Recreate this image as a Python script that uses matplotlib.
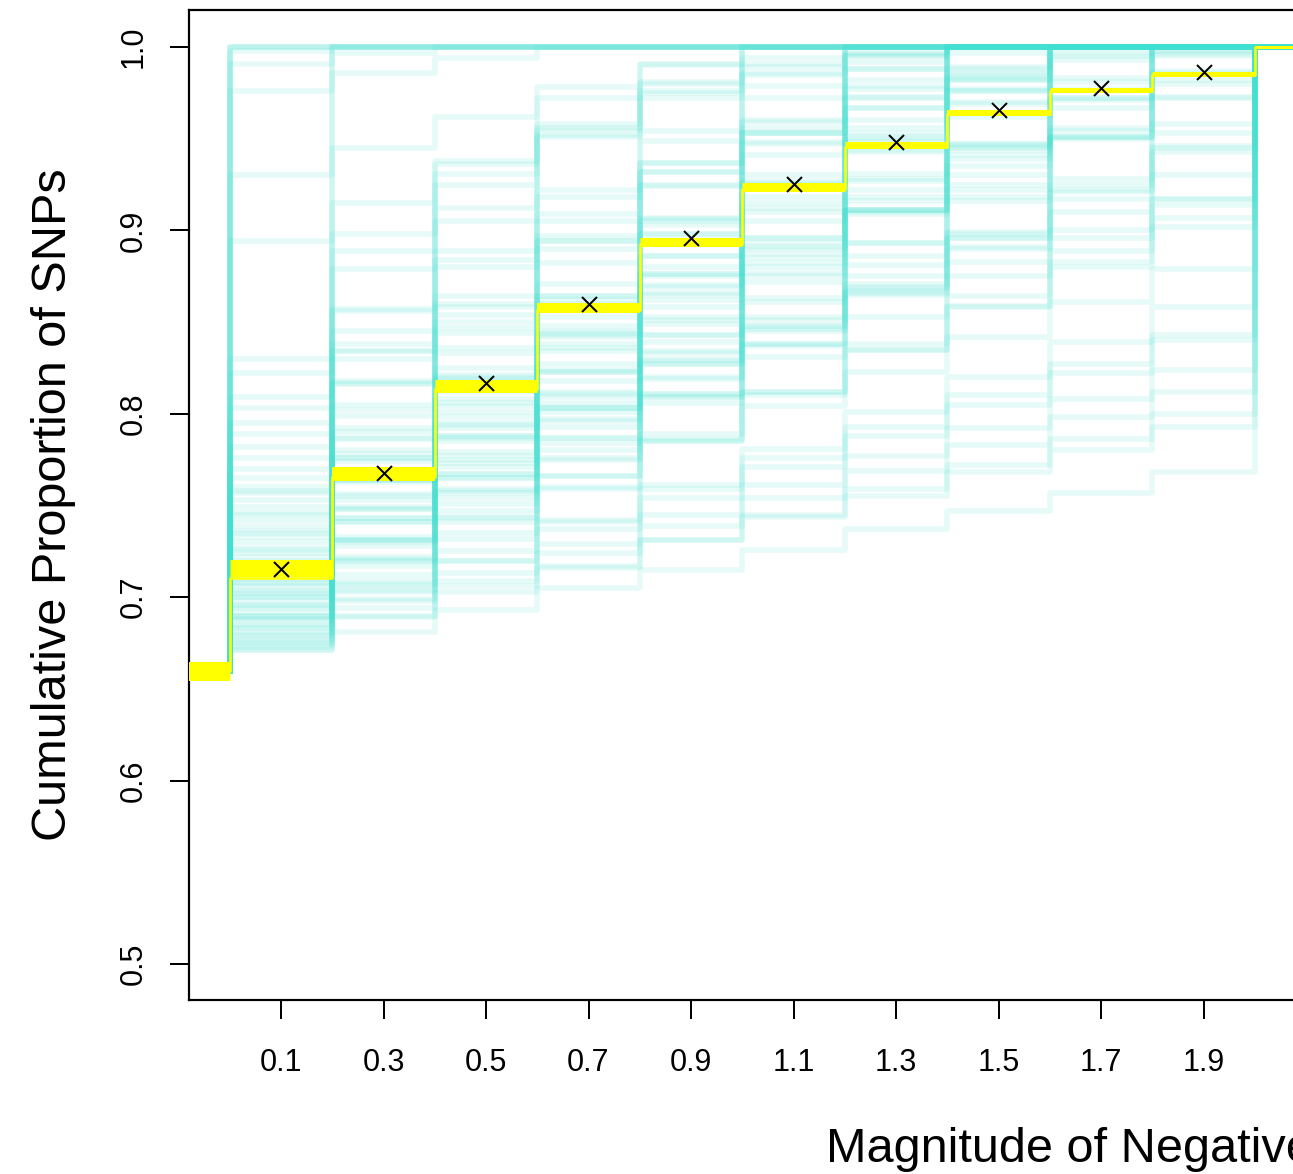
import matplotlib
matplotlib.use("Agg")
import matplotlib.pyplot as plt

plt.rcParams['font.family'] = ['Liberation Sans', 'DejaVu Sans']

# ---------------- data ----------------
bin_edges = [0.0, 0.2, 0.4, 0.6, 0.8, 1.0, 1.2, 1.4, 1.6, 1.8, 2.0]
x_tick_positions = [0.1, 0.3, 0.5, 0.7, 0.9, 1.1, 1.3, 1.5, 1.7, 1.9]
x_tick_labels = ['0.1', '0.3', '0.5', '0.7', '0.9', '1.1', '1.3', '1.5', '1.7', '1.9']
y_tick_positions = [0.5, 0.6, 0.7, 0.8, 0.9, 1.0]
y_tick_labels = ['0.5', '0.6', '0.7', '0.8', '0.9', '1.0']

x_label = 'Magnitude of Negative Selection'
y_label = 'Cumulative Proportion of SNPs'

# observed (yellow) cumulative proportions
observed_start = 0.660      # below magnitude 0
observed_levels = [0.7157, 0.7672, 0.8149, 0.8577, 0.8937,
                   0.9237, 0.9463, 0.9640, 0.9766, 0.9853]
observed_end = 1.0          # beyond magnitude 2
observed_line = [0.7105, 0.7655, 0.8135, 0.8565, 0.8925,
                 0.9225, 0.9455, 0.9635, 0.9762, 0.9850]
observed_means = [0.7154, 0.7677, 0.8168, 0.8599, 0.8959,
                  0.9253, 0.9482, 0.9656, 0.9777, 0.9864]

# replicate (turquoise) cumulative proportions, one row per replicate
replicate_start = 0.660
replicate_levels = [
    [1.000, 1.000, 1.000, 1.000, 1.000, 1.000, 1.000, 1.000, 1.000, 1.000],
    [1.000, 1.000, 1.000, 1.000, 1.000, 1.000, 1.000, 1.000, 1.000, 1.000],
    [1.000, 1.000, 1.000, 1.000, 1.000, 1.000, 1.000, 1.000, 1.000, 1.000],
    [0.998, 1.000, 1.000, 1.000, 1.000, 1.000, 1.000, 1.000, 1.000, 1.000],
    [0.991, 0.997, 1.000, 1.000, 1.000, 1.000, 1.000, 1.000, 1.000, 1.000],
    [0.976, 0.986, 0.994, 1.000, 1.000, 1.000, 1.000, 1.000, 1.000, 1.000],
    [0.930, 0.945, 0.962, 0.978, 0.991, 1.000, 1.000, 1.000, 1.000, 1.000],
    [0.894, 0.915, 0.936, 0.955, 0.972, 0.986, 0.996, 1.000, 1.000, 1.000],
    [0.830, 0.857, 0.884, 0.909, 0.932, 0.953, 0.972, 0.988, 1.000, 1.000],
    [0.726, 1.000, 1.000, 1.000, 1.000, 1.000, 1.000, 1.000, 1.000, 1.000],
    [0.708, 1.000, 1.000, 1.000, 1.000, 1.000, 1.000, 1.000, 1.000, 1.000],
    [0.695, 0.830, 0.905, 0.952, 0.980, 1.000, 1.000, 1.000, 1.000, 1.000],
    [0.735, 0.845, 0.912, 0.951, 0.976, 0.991, 1.000, 1.000, 1.000, 1.000],
    [0.712, 0.879, 0.938, 0.972, 0.990, 1.000, 1.000, 1.000, 1.000, 1.000],
    [0.745, 0.889, 0.925, 0.958, 0.981, 0.994, 1.000, 1.000, 1.000, 1.000],
    [0.703, 0.838, 0.880, 0.918, 0.949, 0.972, 0.988, 0.997, 1.000, 1.000],
    [0.758, 0.898, 0.931, 0.956, 0.975, 0.989, 0.997, 1.000, 1.000, 1.000],
    [0.690, 0.790, 0.860, 0.905, 0.937, 0.960, 0.977, 0.989, 0.996, 1.000],
    [0.700, 0.780, 0.847, 0.897, 0.932, 0.956, 0.973, 0.985, 0.993, 0.998],
    [0.671, 0.706, 0.741, 0.776, 0.811, 0.846, 0.881, 0.916, 0.951, 0.986],
    [0.673, 0.703, 0.732, 0.759, 0.786, 0.812, 0.838, 0.864, 0.889, 0.914],
    [0.675, 0.717, 0.759, 0.801, 0.843, 0.885, 0.927, 0.969, 1.000, 1.000],
    [0.677, 0.699, 0.720, 0.741, 0.761, 0.781, 0.801, 0.820, 0.839, 0.858],
    [0.679, 0.712, 0.744, 0.775, 0.806, 0.837, 0.868, 0.898, 0.928, 0.958],
    [0.681, 0.720, 0.758, 0.796, 0.834, 0.872, 0.910, 0.947, 0.983, 1.000],
    [0.683, 0.709, 0.735, 0.760, 0.785, 0.810, 0.835, 0.859, 0.883, 0.907],
    [0.685, 0.731, 0.777, 0.823, 0.869, 0.915, 0.960, 1.000, 1.000, 1.000],
    [0.687, 0.721, 0.754, 0.787, 0.820, 0.853, 0.886, 0.918, 0.950, 0.982],
    [0.689, 0.707, 0.725, 0.742, 0.759, 0.776, 0.793, 0.810, 0.827, 0.843],
    [0.690, 0.731, 0.771, 0.811, 0.851, 0.891, 0.931, 0.970, 1.000, 1.000],
    [0.692, 0.722, 0.751, 0.780, 0.809, 0.838, 0.867, 0.896, 0.925, 0.953],
    [0.694, 0.731, 0.767, 0.803, 0.839, 0.875, 0.911, 0.946, 0.981, 1.000],
    [0.696, 0.720, 0.743, 0.766, 0.789, 0.812, 0.835, 0.858, 0.880, 0.902],
    [0.698, 0.748, 0.798, 0.848, 0.898, 0.948, 0.995, 1.000, 1.000, 1.000],
    [0.700, 0.733, 0.765, 0.797, 0.829, 0.861, 0.893, 0.925, 0.956, 0.987],
    [0.702, 0.730, 0.757, 0.784, 0.811, 0.838, 0.865, 0.891, 0.917, 0.943],
    [0.704, 0.748, 0.792, 0.836, 0.880, 0.924, 0.967, 1.000, 1.000, 1.000],
    [0.706, 0.741, 0.775, 0.809, 0.843, 0.877, 0.911, 0.944, 0.977, 1.000],
    [0.708, 0.728, 0.747, 0.766, 0.785, 0.804, 0.823, 0.842, 0.861, 0.879],
    [0.710, 0.749, 0.788, 0.827, 0.866, 0.905, 0.944, 0.982, 1.000, 1.000],
    [0.712, 0.743, 0.773, 0.803, 0.833, 0.863, 0.893, 0.922, 0.951, 0.980],
    [0.714, 0.741, 0.767, 0.793, 0.819, 0.845, 0.871, 0.896, 0.921, 0.946],
    [0.716, 0.764, 0.812, 0.860, 0.907, 0.953, 0.995, 1.000, 1.000, 1.000],
    [0.718, 0.753, 0.788, 0.823, 0.858, 0.893, 0.928, 0.962, 0.995, 1.000],
    [0.720, 0.743, 0.765, 0.787, 0.809, 0.831, 0.853, 0.875, 0.896, 0.917],
    [0.722, 0.763, 0.804, 0.845, 0.886, 0.927, 0.967, 1.000, 1.000, 1.000],
    [0.724, 0.756, 0.787, 0.818, 0.849, 0.880, 0.911, 0.941, 0.971, 1.000],
    [0.727, 0.764, 0.801, 0.838, 0.875, 0.912, 0.948, 0.983, 1.000, 1.000],
    [0.730, 0.755, 0.779, 0.803, 0.827, 0.851, 0.875, 0.899, 0.922, 0.945],
    [0.733, 0.776, 0.819, 0.862, 0.905, 0.947, 0.988, 1.000, 1.000, 1.000],
    [0.736, 0.766, 0.795, 0.824, 0.853, 0.882, 0.911, 0.939, 0.967, 0.995],
    [0.739, 0.774, 0.808, 0.842, 0.876, 0.910, 0.943, 0.976, 1.000, 1.000],
    [0.742, 0.764, 0.785, 0.806, 0.827, 0.848, 0.869, 0.890, 0.910, 0.930],
    [0.746, 0.786, 0.825, 0.864, 0.903, 0.941, 0.979, 1.000, 1.000, 1.000],
    [0.749, 0.778, 0.806, 0.834, 0.862, 0.890, 0.918, 0.945, 0.972, 0.998],
    [0.753, 0.787, 0.820, 0.853, 0.886, 0.918, 0.950, 0.982, 1.000, 1.000],
    [0.757, 0.776, 0.794, 0.812, 0.830, 0.848, 0.866, 0.883, 0.900, 0.917],
    [0.760, 0.805, 0.850, 0.894, 0.937, 0.979, 1.000, 1.000, 1.000, 1.000],
    [0.765, 0.792, 0.818, 0.844, 0.870, 0.896, 0.922, 0.947, 0.972, 0.996],
    [0.770, 0.802, 0.833, 0.864, 0.895, 0.926, 0.956, 0.986, 1.000, 1.000],
    [0.776, 0.799, 0.821, 0.843, 0.865, 0.887, 0.909, 0.930, 0.951, 0.972],
    [0.782, 0.818, 0.854, 0.890, 0.925, 0.959, 0.992, 1.000, 1.000, 1.000],
    [0.789, 0.817, 0.844, 0.871, 0.898, 0.925, 0.951, 0.977, 1.000, 1.000],
    [0.795, 0.816, 0.836, 0.856, 0.876, 0.896, 0.916, 0.935, 0.954, 0.973],
    [0.803, 0.834, 0.864, 0.894, 0.924, 0.953, 0.982, 1.000, 1.000, 1.000],
    [0.809, 0.834, 0.858, 0.882, 0.906, 0.930, 0.953, 0.976, 0.999, 1.000],
    [0.822, 0.856, 0.889, 0.922, 0.954, 0.985, 1.000, 1.000, 1.000, 1.000],
    [0.671, 0.681, 0.693, 0.705, 0.715, 0.726, 0.737, 0.747, 0.757, 0.768],
    [0.674, 0.690, 0.706, 0.716, 0.731, 0.744, 0.755, 0.768, 0.780, 0.793],
    [0.676, 0.689, 0.703, 0.717, 0.731, 0.745, 0.759, 0.772, 0.786, 0.800],
    [0.680, 0.694, 0.709, 0.724, 0.739, 0.754, 0.769, 0.783, 0.798, 0.812],
    [0.684, 0.698, 0.713, 0.729, 0.745, 0.761, 0.777, 0.792, 0.808, 0.824],
    [0.688, 0.704, 0.720, 0.737, 0.754, 0.771, 0.788, 0.805, 0.822, 0.840],
]

# ---------------- style ----------------
DPI = 100
PX = 72.0 / DPI  # points per pixel
TURQ = '#40E0D0'
YELLOW = '#FFFF00'
bar_widths_px = [19, 17, 14, 13, 10, 9, 9, 7, 6, 5, 5, 3]  # pre, bins, post

fig = plt.figure(figsize=(12.93, 11.74), dpi=DPI)
ax_left_px, ax_bottom_px = 189, 174
x0_px, px_per_unit = 229.75, 512.5
y1_px, py_per_unit = 47.0, 1834.0
xmin = (ax_left_px - x0_px) / px_per_unit
xmax = 2.2
ymax = 1.0 + (y1_px - 10) / py_per_unit
ymin = 0.5 - (1000 - 964) / py_per_unit
ax_w_px = (xmax - xmin) * px_per_unit
ax_h_px = 990
ax = fig.add_axes([ax_left_px / 1293, ax_bottom_px / 1174, ax_w_px / 1293, ax_h_px / 1174])
ax.set_xlim(xmin, xmax)
ax.set_ylim(ymin, ymax)

# replicate curves
step_x = [bin_edges[0]] + bin_edges[:-1] + [bin_edges[-1], xmax + 0.3]
for row in replicate_levels:
    step_y = [replicate_start] + list(row) + [1.0, 1.0]
    ax.plot(step_x, step_y, drawstyle='steps-post', color=TURQ, alpha=0.13,
            lw=5.5 * PX, zorder=2)

# observed thin step line
obs_x = [xmin - 0.2] + bin_edges[:-1] + [bin_edges[-1], xmax + 0.3]
obs_y = [observed_start] + observed_line + [observed_end, observed_end]
ax.plot(obs_x, obs_y, drawstyle='steps-post', color=YELLOW, lw=2.6 * PX, zorder=3)

# observed thick segments
seg_starts = [xmin - 0.2] + bin_edges
seg_ends = bin_edges + [xmax + 0.3]
seg_vals = [observed_start] + observed_levels + [observed_end]
for xs, xe, yv, wpx in zip(seg_starts, seg_ends, seg_vals, bar_widths_px):
    ax.plot([xs, xe], [yv, yv], color=YELLOW, lw=wpx * PX,
            solid_capstyle='butt', zorder=4)

# means
ax.plot(x_tick_positions, observed_means, linestyle='none', marker='x',
        color='black', ms=15 * PX, mew=2.0 * PX, zorder=5)

# axes styling
for s in ax.spines.values():
    s.set_linewidth(2.2 * PX)
    s.set_color('black')
ax.set_xticks(x_tick_positions)
ax.set_xticklabels(x_tick_labels)
ax.set_yticks(y_tick_positions)
ax.set_yticklabels(y_tick_labels, rotation=90, va='center')
ax.tick_params(axis='both', length=19 * PX, width=2.0 * PX, labelsize=22,
               color='black', labelcolor='black')
ax.tick_params(axis='x', pad=29 * PX)
ax.tick_params(axis='y', pad=21 * PX)

fig.text(826 / 1293, (1174 - 1162) / 1174, x_label, ha='left', va='baseline',
         fontsize=35)
fig.text(54 / 1293, (1174 - 505) / 1174, y_label, ha='center', va='center',
         rotation=90, fontsize=35)

fig.savefig('out.png', dpi=DPI)
